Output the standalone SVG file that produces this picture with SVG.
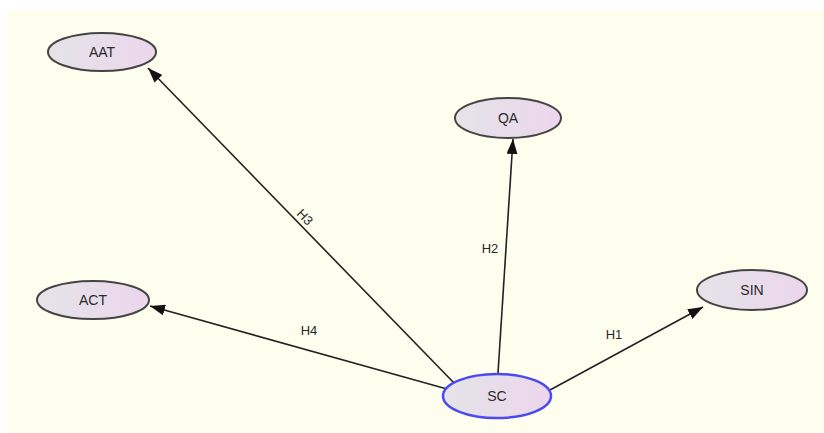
<svg xmlns="http://www.w3.org/2000/svg" width="824" height="433" viewBox="0 0 824 433">
<defs>
<linearGradient id="g" x1="0" y1="0" x2="1" y2="0">
<stop offset="0" stop-color="#e4e4e8"/>
<stop offset="1" stop-color="#ecd6ec"/>
</linearGradient>
<marker id="arr" viewBox="0 0 15 11" refX="15" refY="5.5" markerWidth="15" markerHeight="11" markerUnits="userSpaceOnUse" orient="auto">
<path d="M0,0 L15,5.5 L0,11 z" fill="#111"/>
</marker>
<style>
.n{fill:url(#g);stroke:#444;stroke-width:2}
.sel{stroke:#4a4af0;stroke-width:2.5}
.t{font-family:"Liberation Sans",Arial,sans-serif;font-size:14px;fill:#2a2a2a;text-anchor:middle;dominant-baseline:central}
.e{stroke:#222;stroke-width:1.6;fill:none;marker-end:url(#arr)}
.l{font-family:"Liberation Sans",Arial,sans-serif;font-size:13px;fill:#2a2a2a;text-anchor:middle;dominant-baseline:central}
</style>
</defs>
<rect x="0" y="0" width="824" height="433" fill="#ffffff"/>
<rect x="8" y="10" width="816" height="423" fill="#fdfeee"/>
<g id="connectors">
<line class="e" x1="455" y1="384" x2="148" y2="68"/>
<line class="e" x1="498" y1="373" x2="513" y2="139"/>
<line class="e" x1="447" y1="389" x2="150" y2="306"/>
<line class="e" x1="550" y1="390" x2="703" y2="307"/>
<text class="l" transform="translate(305,217) rotate(46)">H3</text>
<text class="l" x="490" y="248">H2</text>
<text class="l" x="309" y="330">H4</text>
<text class="l" x="614" y="334">H1</text>
</g>
<g id="AAT"><ellipse class="n" cx="102" cy="52" rx="54" ry="19"/><text class="t" x="102" y="52">AAT</text></g>
<g id="QA"><ellipse class="n" cx="508" cy="118" rx="53" ry="20"/><text class="t" x="508" y="118">QA</text></g>
<g id="ACT"><ellipse class="n" cx="93" cy="300" rx="56" ry="19"/><text class="t" x="93" y="300">ACT</text></g>
<g id="SIN"><ellipse class="n" cx="752" cy="290" rx="55" ry="20"/><text class="t" x="752" y="290">SIN</text></g>
<g id="SC"><ellipse class="n sel" cx="497" cy="396" rx="54" ry="22"/><text class="t" x="497" y="396">SC</text></g>
</svg>
